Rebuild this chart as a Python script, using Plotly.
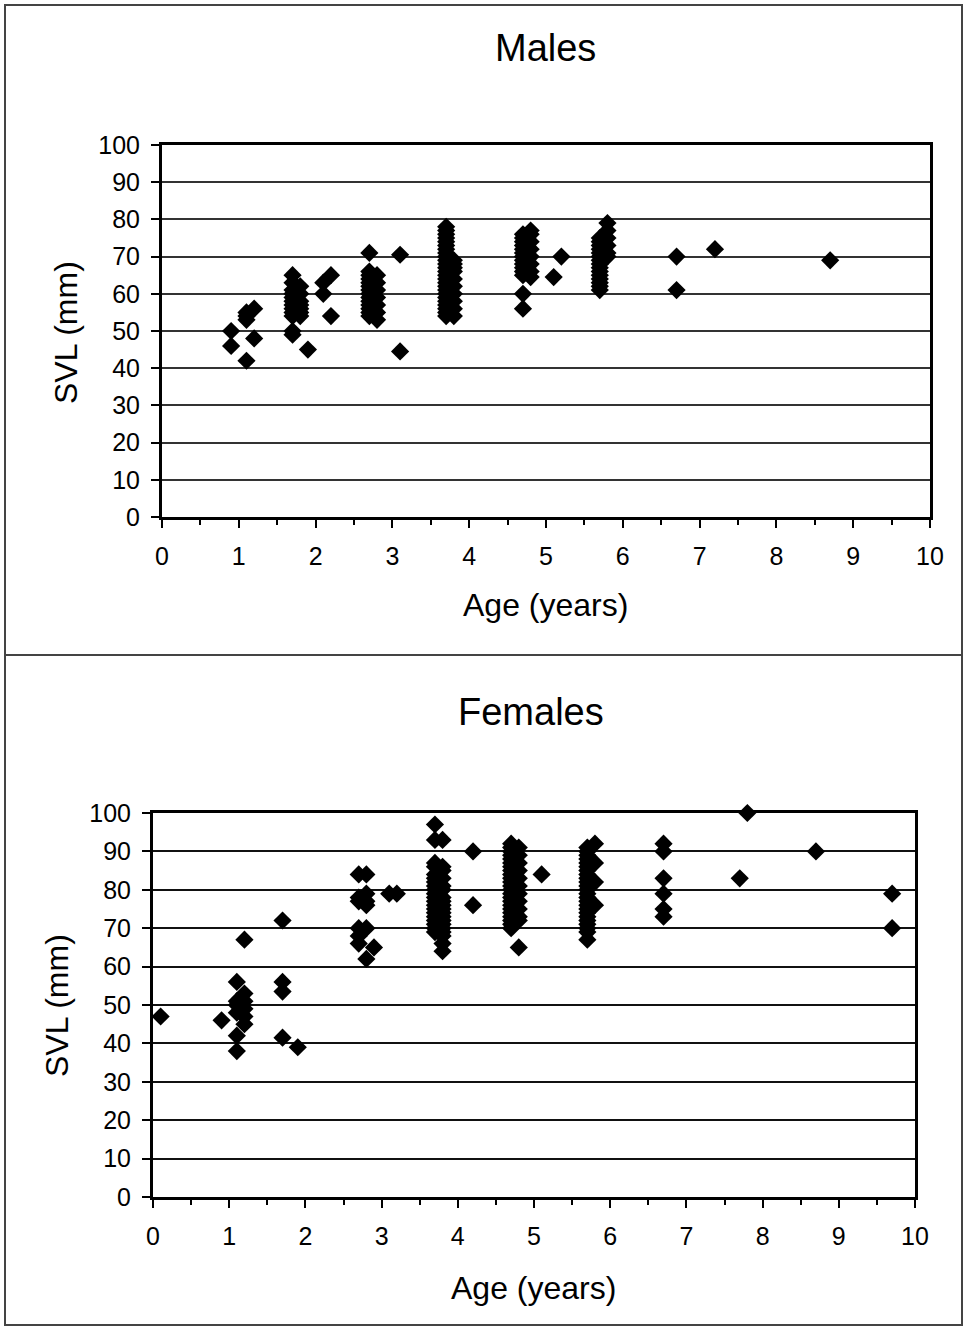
import plotly.graph_objects as go

W, H = 963, 1326

# ---------------- data ----------------
male_groups_age = [0.9, 1.1, 1.2, 1.7, 1.8, 1.9, 2.1, 2.2, 2.7, 2.8, 3.1, 3.7, 3.8,
                   4.7, 4.8, 5.1, 5.2, 5.7, 5.8, 6.7, 7.2, 8.7]
male_groups_svl = [
    [50, 46],
    [55, 54, 53, 42],
    [56, 48],
    [65, 63, 61, 60, 59, 58, 57, 56, 55, 54, 50, 49],
    [62, 60, 58, 57, 56, 55, 54],
    [45],
    [63, 60],
    [65, 54],
    [71, 66, 65, 64, 63, 62, 61, 60, 59, 58, 57, 56, 55, 54],
    [65, 63, 61, 59, 57, 55, 53],
    [70.5, 44.5],
    [78, 77, 76, 75, 74, 73, 72, 71, 70, 69, 68, 67, 66, 65, 64, 63, 62, 61, 60, 59, 58, 57, 56, 55, 54],
    [69, 68, 67, 66, 64, 62, 60, 58, 56, 54],
    [76, 75, 74, 73, 72, 71, 70, 69, 68, 67, 66, 65, 60, 56],
    [77, 76, 74, 72, 70, 68, 66, 64.5],
    [64.5],
    [70],
    [75, 74, 73, 72, 71, 70, 69, 68, 67, 66, 65, 64, 63, 62, 61],
    [79, 77, 75, 73, 71, 70],
    [70, 61],
    [72],
    [69],
]

female_groups_age = [0.1, 0.9, 1.1, 1.2, 1.7, 1.9, 2.7, 2.8, 2.9, 3.1, 3.2, 3.7, 3.8,
                     4.2, 4.7, 4.8, 5.1, 5.7, 5.8, 6.7, 7.7, 7.8, 8.7, 9.7]
female_groups_svl = [
    [47],
    [46],
    [56, 51, 50, 48, 42, 38],
    [67, 53, 51, 49, 47, 45],
    [72, 56, 53.5, 41.5],
    [39],
    [84, 78, 77, 70, 68, 66],
    [84, 79, 77, 76, 70, 62],
    [65],
    [79],
    [79],
    [97, 93, 87, 86, 84, 83, 82, 81, 80, 79, 78, 77, 76, 75, 74, 73, 72, 71, 70, 69],
    [93, 86, 85, 83, 81, 80, 78, 77, 76, 75, 74, 73, 72, 71, 70, 69, 68, 66, 64],
    [90, 76],
    [92, 91, 90, 89, 88, 87, 86, 85, 84, 83, 82, 81, 80, 79, 78, 77, 76, 75, 74, 73, 72, 71, 70],
    [91, 89, 87, 85, 83, 81, 79, 77, 75, 73, 72, 65],
    [84],
    [91, 90, 89, 88, 87, 86, 85, 84, 83, 82, 81, 80, 79, 78, 77, 76, 75, 74, 73, 72, 71, 70, 69, 67],
    [92, 87, 82, 76],
    [92, 90, 83, 79, 75, 73],
    [83],
    [100],
    [90],
    [79, 70],
]

x_ticks = list(range(0, 11))
y_ticks = list(range(0, 101, 10))

def flatten(ages, groups):
    xs, ys = [], []
    for a, g in zip(ages, groups):
        for v in g:
            xs.append(a)
            ys.append(v)
    return xs, ys

mx, my = flatten(male_groups_age, male_groups_svl)
fx, fy = flatten(female_groups_age, female_groups_svl)

FONT = "Liberation Sans, Arial, sans-serif"

fig = go.Figure()
marker = dict(symbol="diamond", size=14, color="black", line=dict(width=0))
fig.add_trace(go.Scatter(x=mx, y=my, mode="markers", marker=marker,
                         xaxis="x", yaxis="y", cliponaxis=False, showlegend=False))
fig.add_trace(go.Scatter(x=fx, y=fy, mode="markers", marker=marker,
                         xaxis="x2", yaxis="y2", cliponaxis=False, showlegend=False))

def px_x(p):
    return p / W

def px_y(p):
    return 1 - p / H

def xax(dom, anchor):
    return dict(domain=dom, anchor=anchor, range=[0, 10], tickvals=x_ticks,
                automargin=False,
                ticks="outside", ticklen=8, tickwidth=2, tickcolor="black",
                showline=True, linewidth=3, linecolor="black", mirror=True,
                showgrid=False, zeroline=False, ticklabelstandoff=7,
                minor=dict(dtick=0.5, ticks="outside", ticklen=5, tickwidth=2,
                           tickcolor="black", showgrid=False),
                tickfont=dict(family=FONT, size=25, color="black"))

def yax(dom, anchor, gridcolor):
    return dict(domain=dom, anchor=anchor, range=[0, 100], tickvals=y_ticks,
                automargin=False,
                ticks="outside", ticklen=8, tickwidth=2, tickcolor="black",
                showline=True, linewidth=3, linecolor="black", mirror=True,
                showgrid=True, gridcolor=gridcolor, gridwidth=2, zeroline=False,
                ticklabelstandoff=6,
                tickfont=dict(family=FONT, size=25, color="black"))

fig.update_layout(
    template="none",
    width=W, height=H, autosize=False,
    margin=dict(l=0, r=0, t=0, b=0, pad=0, autoexpand=False),
    paper_bgcolor="white", plot_bgcolor="white",
    xaxis=xax([px_x(162), px_x(930)], "y"),
    yaxis=yax([px_y(517), px_y(145)], "x", "#333333"),
    xaxis2=xax([px_x(153), px_x(915)], "y2"),
    yaxis2=yax([px_y(1197), px_y(813)], "x2", "#111111"),
)

def ann(text, x, y, size, angle=0):
    return dict(text=text, x=px_x(x), y=px_y(y), xref="paper", yref="paper",
                showarrow=False, xanchor="center", yanchor="middle", textangle=angle,
                font=dict(family=FONT, size=size, color="black"))

fig.update_layout(annotations=[
    ann("Males", 545, 48, 38),
    ann("Age (years)", 545, 605, 32),
    ann("SVL (mm)", 66, 333, 32, -90),
    ann("Females", 531, 712, 38),
    ann("Age (years)", 533, 1288, 32),
    ann("SVL (mm)", 57, 1006, 32, -90),
])

border = dict(color="#444444", width=2)
fig.update_layout(shapes=[
    dict(type="rect", xref="paper", yref="paper", x0=px_x(5), x1=px_x(962),
         y0=px_y(1325), y1=px_y(5), line=border),
    dict(type="line", xref="paper", yref="paper", x0=px_x(5), x1=px_x(962),
         y0=px_y(655), y1=px_y(655), line=border),
])

fig.write_html("out.html",
               post_script="document.body.style.margin='0';document.body.style.overflow='hidden';")
